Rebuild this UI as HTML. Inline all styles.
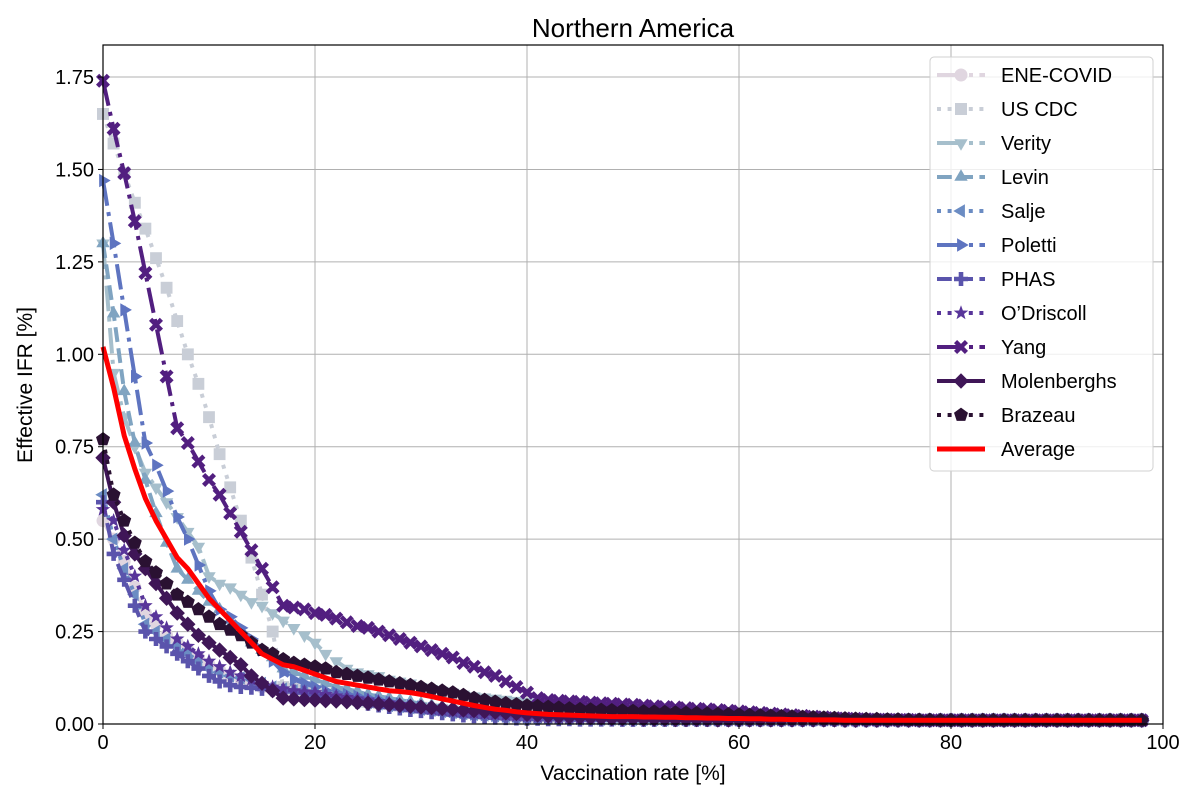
<!DOCTYPE html>
<html><head><meta charset="utf-8"><style>
body{margin:0;background:#fff;font-family:"Liberation Sans","DejaVu Sans",sans-serif}
svg text{font-family:"Liberation Sans","DejaVu Sans",sans-serif;fill:#000}
</style></head><body>
<svg id="chart" width="1200" height="800" viewBox="0 0 1200 800" xmlns="http://www.w3.org/2000/svg">
<rect width="1200" height="800" fill="#fff"/>
<text x="633" y="37" font-size="26" text-anchor="middle">Northern America</text>
<g id="grid"></g>
<g id="series"></g>
<g id="axes"></g>
<g id="legend"></g>
</svg>
<script>
const xTicks=[0,20,40,60,80,100];
const yTicks=[0,0.25,0.5,0.75,1.0,1.25,1.5,1.75];
const yTickLabels=["0.00","0.25","0.50","0.75","1.00","1.25","1.50","1.75"];
const names=["ENE-COVID","US CDC","Verity","Levin","Salje","Poletti","PHAS","O\u2019Driscoll","Yang","Molenberghs","Brazeau","Average"];
const eneCovid=[0.55,0.50,0.44,0.37,0.30,0.27,0.24,0.22,0.20,0.18,0.16,0.145,0.13,0.12,0.11,0.10,0.095,0.09,0.086,0.082,0.078,0.074,0.07,0.066,0.062,0.058,0.055,0.052,0.049,0.046,0.043,0.04,0.037,0.034,0.031,0.029,0.027,0.025,0.023,0.021,0.02,0.019,0.018,0.017,0.016,0.016,0.015,0.015,0.014,0.014,0.014,0.014,0.013,0.013,0.013,0.012,0.012,0.012,0.012,0.011,0.011,0.011,0.011,0.011,0.011,0.011,0.011,0.011,0.011,0.011,0.01,0.01,0.01,0.01,0.01,0.01,0.01,0.01,0.01,0.01,0.01,0.01,0.01,0.01,0.01,0.01,0.01,0.01,0.01,0.01,0.01,0.01,0.01,0.01,0.01,0.01,0.01,0.01,0.01];
const usCdc=[1.65,1.57,1.49,1.41,1.34,1.26,1.18,1.09,1.00,0.92,0.83,0.73,0.64,0.55,0.45,0.35,0.25,0.10,0.095,0.09,0.085,0.08,0.075,0.07,0.065,0.06,0.057,0.054,0.05,0.047,0.044,0.041,0.038,0.035,0.032,0.03,0.028,0.026,0.024,0.022,0.021,0.02,0.02,0.019,0.019,0.018,0.018,0.017,0.017,0.016,0.016,0.016,0.015,0.015,0.015,0.014,0.014,0.014,0.013,0.013,0.013,0.013,0.012,0.012,0.012,0.012,0.012,0.011,0.011,0.011,0.011,0.011,0.011,0.011,0.01,0.01,0.01,0.01,0.01,0.01,0.01,0.01,0.01,0.01,0.01,0.01,0.01,0.01,0.01,0.01,0.01,0.01,0.01,0.01,0.01,0.01,0.01,0.01,0.01];
const verity=[1.30,0.95,0.83,0.75,0.68,0.64,0.60,0.56,0.52,0.48,0.40,0.38,0.37,0.35,0.33,0.32,0.30,0.28,0.26,0.24,0.22,0.19,0.17,0.15,0.14,0.135,0.13,0.12,0.115,0.11,0.10,0.095,0.09,0.085,0.08,0.075,0.072,0.069,0.066,0.063,0.06,0.058,0.056,0.055,0.053,0.052,0.05,0.049,0.048,0.046,0.045,0.044,0.042,0.041,0.04,0.038,0.037,0.035,0.034,0.032,0.03,0.028,0.027,0.025,0.024,0.022,0.021,0.019,0.018,0.016,0.015,0.014,0.013,0.012,0.012,0.011,0.011,0.01,0.01,0.01,0.01,0.01,0.01,0.01,0.01,0.01,0.01,0.01,0.01,0.01,0.01,0.01,0.01,0.01,0.01,0.01,0.01,0.01,0.01];
const levin=[1.30,1.11,0.90,0.76,0.66,0.57,0.49,0.42,0.39,0.36,0.33,0.31,0.28,0.25,0.22,0.20,0.18,0.15,0.14,0.13,0.12,0.11,0.10,0.095,0.088,0.08,0.075,0.07,0.065,0.06,0.055,0.05,0.047,0.044,0.04,0.037,0.034,0.031,0.028,0.025,0.022,0.02,0.019,0.018,0.017,0.016,0.016,0.015,0.015,0.014,0.014,0.014,0.013,0.013,0.013,0.012,0.012,0.012,0.012,0.011,0.011,0.011,0.011,0.011,0.011,0.011,0.011,0.011,0.011,0.011,0.01,0.01,0.01,0.01,0.01,0.01,0.01,0.01,0.01,0.01,0.01,0.01,0.01,0.01,0.01,0.01,0.01,0.01,0.01,0.01,0.01,0.01,0.01,0.01,0.01,0.01,0.01,0.01,0.01];
const salje=[0.62,0.50,0.42,0.35,0.27,0.25,0.23,0.21,0.19,0.17,0.15,0.14,0.13,0.125,0.12,0.11,0.10,0.095,0.09,0.085,0.08,0.075,0.07,0.066,0.062,0.058,0.054,0.05,0.047,0.044,0.04,0.037,0.034,0.031,0.028,0.026,0.024,0.022,0.02,0.019,0.018,0.017,0.016,0.015,0.015,0.014,0.014,0.013,0.013,0.012,0.012,0.012,0.012,0.011,0.011,0.011,0.011,0.011,0.011,0.011,0.011,0.011,0.011,0.011,0.011,0.011,0.011,0.011,0.011,0.011,0.01,0.01,0.01,0.01,0.01,0.01,0.01,0.01,0.01,0.01,0.01,0.01,0.01,0.01,0.01,0.01,0.01,0.01,0.01,0.01,0.01,0.01,0.01,0.01,0.01,0.01,0.01,0.01,0.01];
const poletti=[1.47,1.30,1.12,0.94,0.76,0.70,0.63,0.56,0.50,0.43,0.36,0.31,0.29,0.26,0.23,0.20,0.17,0.14,0.12,0.11,0.10,0.09,0.085,0.08,0.075,0.07,0.065,0.06,0.055,0.05,0.046,0.042,0.038,0.034,0.03,0.027,0.025,0.023,0.021,0.02,0.019,0.018,0.017,0.016,0.016,0.015,0.015,0.014,0.014,0.013,0.013,0.013,0.013,0.012,0.012,0.012,0.012,0.012,0.011,0.011,0.011,0.011,0.011,0.011,0.011,0.011,0.011,0.011,0.011,0.011,0.01,0.01,0.01,0.01,0.01,0.01,0.01,0.01,0.01,0.01,0.01,0.01,0.01,0.01,0.01,0.01,0.01,0.01,0.01,0.01,0.01,0.01,0.01,0.01,0.01,0.01,0.01,0.01,0.01];
const phas=[0.60,0.46,0.39,0.32,0.25,0.23,0.21,0.19,0.17,0.15,0.13,0.115,0.105,0.10,0.098,0.095,0.093,0.09,0.088,0.085,0.08,0.075,0.07,0.065,0.06,0.055,0.05,0.046,0.042,0.038,0.035,0.032,0.029,0.026,0.023,0.021,0.019,0.017,0.016,0.015,0.014,0.014,0.013,0.013,0.013,0.012,0.012,0.012,0.012,0.011,0.011,0.011,0.011,0.011,0.011,0.011,0.011,0.011,0.011,0.011,0.011,0.011,0.011,0.011,0.011,0.011,0.011,0.011,0.011,0.011,0.01,0.01,0.01,0.01,0.01,0.01,0.01,0.01,0.01,0.01,0.01,0.01,0.01,0.01,0.01,0.01,0.01,0.01,0.01,0.01,0.01,0.01,0.01,0.01,0.01,0.01,0.01,0.01,0.01];
const odriscoll=[0.58,0.55,0.47,0.40,0.32,0.29,0.26,0.23,0.21,0.19,0.17,0.155,0.14,0.13,0.12,0.11,0.10,0.095,0.09,0.087,0.085,0.08,0.076,0.072,0.068,0.065,0.061,0.057,0.053,0.049,0.045,0.041,0.038,0.035,0.032,0.03,0.028,0.026,0.024,0.022,0.02,0.019,0.018,0.017,0.017,0.016,0.016,0.015,0.015,0.014,0.014,0.014,0.013,0.013,0.013,0.012,0.012,0.012,0.012,0.011,0.011,0.011,0.011,0.011,0.011,0.011,0.011,0.011,0.011,0.011,0.01,0.01,0.01,0.01,0.01,0.01,0.01,0.01,0.01,0.01,0.01,0.01,0.01,0.01,0.01,0.01,0.01,0.01,0.01,0.01,0.01,0.01,0.01,0.01,0.01,0.01,0.01,0.01,0.01];
const yang=[1.74,1.61,1.49,1.36,1.22,1.08,0.94,0.80,0.76,0.71,0.66,0.62,0.57,0.52,0.47,0.42,0.37,0.32,0.315,0.31,0.30,0.295,0.285,0.275,0.265,0.26,0.25,0.24,0.23,0.22,0.21,0.20,0.19,0.18,0.165,0.155,0.14,0.13,0.115,0.10,0.085,0.07,0.065,0.063,0.061,0.06,0.058,0.056,0.055,0.053,0.052,0.05,0.048,0.046,0.045,0.043,0.041,0.04,0.038,0.036,0.034,0.032,0.03,0.028,0.026,0.024,0.022,0.02,0.018,0.016,0.015,0.014,0.013,0.012,0.012,0.011,0.011,0.01,0.01,0.01,0.01,0.01,0.01,0.01,0.01,0.01,0.01,0.01,0.01,0.01,0.01,0.01,0.01,0.01,0.01,0.01,0.01,0.01,0.01];
const molenberghs=[0.72,0.60,0.51,0.46,0.42,0.38,0.34,0.30,0.27,0.24,0.22,0.20,0.18,0.16,0.13,0.11,0.09,0.07,0.068,0.066,0.065,0.063,0.062,0.06,0.058,0.056,0.054,0.052,0.05,0.048,0.046,0.044,0.042,0.04,0.038,0.036,0.034,0.032,0.03,0.028,0.026,0.024,0.022,0.02,0.019,0.018,0.017,0.016,0.015,0.014,0.014,0.013,0.013,0.013,0.012,0.012,0.012,0.012,0.011,0.011,0.011,0.011,0.011,0.011,0.011,0.011,0.011,0.011,0.011,0.011,0.01,0.01,0.01,0.01,0.01,0.01,0.01,0.01,0.01,0.01,0.01,0.01,0.01,0.01,0.01,0.01,0.01,0.01,0.01,0.01,0.01,0.01,0.01,0.01,0.01,0.01,0.01,0.01,0.01];
const brazeau=[0.77,0.62,0.55,0.49,0.44,0.41,0.38,0.35,0.33,0.31,0.29,0.27,0.255,0.24,0.22,0.20,0.19,0.175,0.165,0.16,0.155,0.15,0.14,0.135,0.13,0.125,0.12,0.115,0.11,0.105,0.10,0.095,0.09,0.085,0.078,0.07,0.065,0.06,0.056,0.053,0.05,0.048,0.046,0.044,0.042,0.04,0.039,0.038,0.037,0.036,0.035,0.034,0.033,0.032,0.031,0.03,0.029,0.028,0.027,0.026,0.025,0.024,0.023,0.022,0.021,0.02,0.019,0.018,0.017,0.016,0.015,0.014,0.013,0.013,0.012,0.012,0.011,0.011,0.011,0.01,0.01,0.01,0.01,0.01,0.01,0.01,0.01,0.01,0.01,0.01,0.01,0.01,0.01,0.01,0.01,0.01,0.01,0.01,0.01];
const average=[1.02,0.91,0.78,0.69,0.61,0.55,0.50,0.45,0.42,0.38,0.34,0.31,0.28,0.25,0.22,0.19,0.175,0.16,0.155,0.145,0.135,0.125,0.115,0.11,0.105,0.10,0.095,0.09,0.088,0.085,0.08,0.074,0.068,0.062,0.056,0.05,0.045,0.04,0.037,0.033,0.03,0.028,0.026,0.025,0.024,0.023,0.022,0.021,0.02,0.02,0.02,0.019,0.019,0.018,0.018,0.017,0.017,0.016,0.016,0.015,0.015,0.014,0.014,0.013,0.013,0.012,0.012,0.011,0.011,0.011,0.01,0.01,0.01,0.01,0.01,0.01,0.01,0.01,0.01,0.01,0.01,0.01,0.01,0.01,0.01,0.01,0.01,0.01,0.01,0.01,0.01,0.01,0.01,0.01,0.01,0.01,0.01,0.01,0.01];
const seriesData=[eneCovid,usCdc,verity,levin,salje,poletti,phas,odriscoll,yang,molenberghs,brazeau,average];

const L=103,R=1163,T=45,B=724;
const sx=v=>L+v*(R-L)/100;
const sy=v=>B-v*369.7;
const NS="http://www.w3.org/2000/svg";
function mk(tag,attrs,parent){const e=document.createElementNS(NS,tag);for(const k in attrs)e.setAttribute(k,attrs[k]);parent.appendChild(e);return e;}
const colors=["#e0d6e0","#c9ced7","#a6bfcc","#80a4c1","#6b8cc3","#5e74c0","#5a54ac","#58359a","#521f80","#3f1657","#2a1132","#ff0000"];
const dashes={solid:"",dot:"4,6.6",dash:"14.8,6.4",dashdot:"25.6,6.4,4,6.4"};
const styles=["dashdot","dot","dashdot","dash","dot","dashdot","dash","dot","dashdot","solid","dot","solid"];
const markers=["circle","square","tdown","tup","tleft","tright","plus","star","x","diamond","pent",null];

function markerPath(type,x,y,s){
  const poly=(pts)=>"M"+pts.map(q=>(x+q[0]*s).toFixed(1)+","+(y+q[1]*s).toFixed(1)).join("L")+"Z";
  const reg=(n,r,rot)=>{const a=[];for(let i=0;i<n;i++){const t=rot+i*2*Math.PI/n;a.push([r*Math.cos(t),r*Math.sin(t)]);}return a;};
  switch(type){
    case"square":return poly([[-0.85,-0.85],[0.85,-0.85],[0.85,0.85],[-0.85,0.85]]);
    case"tdown":return poly(reg(3,1.1,Math.PI/2));
    case"tup":return poly(reg(3,1.1,-Math.PI/2));
    case"tleft":return poly(reg(3,1.1,Math.PI));
    case"tright":return poly(reg(3,1.1,0));
    case"diamond":return poly([[0,-1.1],[1.1,0],[0,1.1],[-1.1,0]]);
    case"pent":return poly(reg(5,1.05,-Math.PI/2));
    case"star":{const a=[];for(let i=0;i<10;i++){const r=i%2?0.45:1.1;const t=-Math.PI/2+i*Math.PI/5;a.push([r*Math.cos(t),r*Math.sin(t)]);}return poly(a);}
    case"plus":return poly([[-0.33,-1],[0.33,-1],[0.33,-0.33],[1,-0.33],[1,0.33],[0.33,0.33],[0.33,1],[-0.33,1],[-0.33,0.33],[-1,0.33],[-1,-0.33],[-0.33,-0.33]]);
    case"x":{const a=[[0,-0.45],[0.55,-1],[1,-0.55],[0.45,0],[1,0.55],[0.55,1],[0,0.45],[-0.55,1],[-1,0.55],[-0.45,0],[-1,-0.55],[-0.55,-1]];return poly(a);}
  }
  return "";
}
function drawMarker(type,x,y,color,parent){
  if(type==="circle"){return mk("circle",{cx:x,cy:y,r:6.5,fill:color},parent);}
  return mk("path",{d:markerPath(type,x,y,7),fill:color},parent);
}

const grid=document.getElementById("grid");
xTicks.forEach(v=>{const l=mk("line",{x1:sx(v),x2:sx(v),y1:T,y2:B,stroke:"#b0b0b0","stroke-width":1},grid);

});
yTicks.forEach(v=>{const l=mk("line",{x1:L,x2:R,y1:sy(v),y2:sy(v),stroke:"#b0b0b0","stroke-width":1},grid);

});

const sg=document.getElementById("series");
const clip=mk("clipPath",{id:"pc"},sg);mk("rect",{x:L-8,y:T,width:R-L+16,height:B-T+8},clip);
seriesData.forEach((arr,i)=>{
  const g=mk("g",{"clip-path":"url(#pc)"},sg);
  
  
  const d=arr.map((v,k)=>(k?"L":"M")+sx(k).toFixed(1)+","+sy(v).toFixed(1)).join("");
  const isAvg=i===11;
  const path=mk("path",{d:d,fill:"none",stroke:colors[i],"stroke-width":isAvg?5:4,"stroke-dasharray":dashes[styles[i]],"stroke-linejoin":"round"},g);
  
  
  if(markers[i]){arr.forEach((v,k)=>{const m=drawMarker(markers[i],sx(k),sy(v),colors[i],g);
    
    });}
});

const ax=document.getElementById("axes");
const frame=mk("rect",{x:L,y:T,width:R-L,height:B-T,fill:"none",stroke:"#000","stroke-width":1.2},ax);


xTicks.forEach(v=>{mk("line",{x1:sx(v),x2:sx(v),y1:B,y2:B+5,stroke:"#000"},ax);
  const t=mk("text",{x:sx(v),y:B+25,"font-size":20,"text-anchor":"middle"},ax);t.textContent=v;
  
  });
yTicks.forEach((v,i)=>{mk("line",{x1:L-5,x2:L,y1:sy(v),y2:sy(v),stroke:"#000"},ax);
  const t=mk("text",{x:L-9,y:sy(v)+7,"font-size":20,"text-anchor":"end"},ax);t.textContent=yTickLabels[i];
  
  });
const xt=mk("text",{x:633,y:780,"font-size":21,"text-anchor":"middle"},ax);xt.textContent="Vaccination rate [%]";


const yt=mk("text",{x:32,y:385,"font-size":21,"text-anchor":"middle",transform:"rotate(-90 32 385)"},ax);yt.textContent="Effective IFR [%]";



const lg=document.getElementById("legend");
const box=mk("rect",{x:930,y:57,width:223,height:414,rx:4,fill:"#fff","fill-opacity":0.8,stroke:"#d0d0d0"},lg);


names.forEach((n,i)=>{
  const y=75+i*34;
  const g=mk("g",{},lg);
  
  
  mk("line",{x1:937,x2:985,y1:y,y2:y,stroke:colors[i],"stroke-width":i===11?5:4,"stroke-dasharray":dashes[styles[i]]},g);
  if(markers[i])drawMarker(markers[i],961,y,colors[i],g);
  const t=mk("text",{x:1001,y:y+7,"font-size":20},g);t.textContent=n;
});
</script>
</body></html>
